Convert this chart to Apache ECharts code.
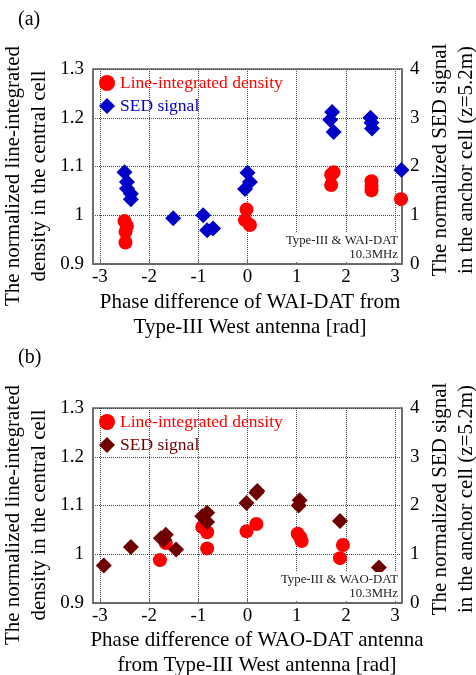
<!DOCTYPE html>
<html><head><meta charset="utf-8">
<script src="https://cdn.jsdelivr.net/npm/echarts@6/dist/echarts.min.js"></script>
<style>html,body{margin:0;padding:0;background:#fff}#c{width:476px;height:675px}</style>
</head><body><div id="c"></div>
<script>
// ---- data ----
const xTicks = [-3, -2, -1, 0, 1, 2, 3];
const densTicks = [0.9, 1.0, 1.1, 1.2, 1.3];
const sedTicks = [0, 1, 2, 3, 4];

// Panel (a): WAI-DAT
const aDensPhase = [-2.5, -2.45, -2.48, -2.48, -0.02, -0.05, 0.05, 1.7, 1.75, 1.7, 2.52, 2.52, 2.52, 3.12];
const aDensValue = [0.988, 0.978, 0.966, 0.944, 1.012, 0.99, 0.98, 1.083, 1.088, 1.062, 1.070, 1.060, 1.051, 1.033];
const aSedPhase = [-2.5, -2.45, -2.45, -2.37, -2.37, -1.51, -0.9, -0.82, -0.7, 0.0, 0.05, -0.05, 1.72, 1.68, 1.75, 2.5, 2.52, 2.53, 3.13];
const aSedValue = [1.88, 1.68, 1.55, 1.44, 1.33, 0.94, 1.0, 0.69, 0.73, 1.87, 1.68, 1.54, 3.12, 2.96, 2.71, 3.0, 2.9, 2.78, 1.93];

// Panel (b): WAO-DAT
const bDensPhase = [-1.78, -1.66, -0.92, -0.82, -0.82, -0.02, 0.18, 1.02, 1.07, 1.1, 1.94, 1.88];
const bDensValue = [0.988, 1.023, 1.056, 1.045, 1.012, 1.047, 1.062, 1.042, 1.035, 1.027, 1.019, 0.992];
const bSedPhase = [-2.92, -2.37, -1.76, -1.66, -1.7, -1.45, -0.92, -0.82, -0.82, -0.02, 0.18, 0.2, 1.06, 1.04, 1.88, 2.67];
const bSedValue = [0.77, 1.15, 1.33, 1.4, 1.3, 1.1, 1.78, 1.85, 1.66, 2.05, 2.26, 2.3, 2.11, 2.0, 1.68, 0.73];

const seriesNamesA = ['Line-integrated density', 'SED signal'];
const seriesNamesB = ['Line-integrated density ', 'SED signal '];

// ---- styling ----
const FONT = '"Liberation Serif", "Times New Roman", serif';
const RED = '#ff0000', BLUE = '#0000c8', MAROON = '#6e0000';
const pairs = (xs, ys) => xs.map((x, i) => [x, ys[i]]);

function xAxis(grid) {
  return {
    type: 'value', gridIndex: grid, min: -3.14, max: 3.14,
    axisLine: { show: true, onZero: false, lineStyle: { color: '#666', width: 1.5 } },
    axisTick: { show: true, inside: true, length: 5, customValues: xTicks, lineStyle: { color: '#666' } },
    axisLabel: { customValues: xTicks, fontFamily: FONT, fontSize: 19, color: '#000', margin: 4 },
    splitLine: { show: true, lineStyle: { type: 'dotted', color: '#444', width: 1 } }
  };
}
function yLeft(grid) {
  return {
    type: 'value', gridIndex: grid, position: 'left', min: 0.9, max: 1.3, interval: 0.1,
    axisLine: { show: true, onZero: false, lineStyle: { color: '#666', width: 1.5 } },
    axisTick: { show: false },
    axisLabel: { fontFamily: FONT, fontSize: 19, color: '#000', margin: 9, verticalAlign: 'middle', padding: [0, 0, 9, 0],
      formatter: v => String(Math.round(v * 10) / 10) },
    splitLine: { show: true, lineStyle: { type: 'dotted', color: '#444', width: 1 } }
  };
}
function yRight(grid) {
  return {
    type: 'value', gridIndex: grid, position: 'right', min: 0, max: 4, interval: 1,
    axisLine: { show: true, onZero: false, lineStyle: { color: '#666', width: 1.5 } },
    axisTick: { show: false },
    axisLabel: { fontFamily: FONT, fontSize: 19, color: '#000', margin: 8 },
    splitLine: { show: false }
  };
}
function legend(top, names, colors) {
  return {
    orient: 'vertical', left: 99, top: top, itemWidth: 16, itemHeight: 16, itemGap: 5,
    padding: 0, selectedMode: false,
    textStyle: { fontFamily: FONT, fontSize: 17.5 },
    data: [
      { name: names[0], icon: 'circle', textStyle: { color: colors[0] } },
      { name: names[1], icon: 'diamond', textStyle: { color: colors[1] } }
    ]
  };
}
function vtext(x, y, text) {
  return { type: 'text', x: x, y: y, rotation: Math.PI / 2, z: 100,
    style: { text: text, x: 0, y: 0, align: 'center', verticalAlign: 'middle',
      font: '21px ' + FONT, lineHeight: 26, fill: '#000' } };
}
function htext(x, y, text) {
  return { type: 'text', x: x, y: y, z: 100,
    style: { text: text, x: 0, y: 0, align: 'center', verticalAlign: 'middle',
      font: '21px ' + FONT, lineHeight: 25, fill: '#000' } };
}
function note(x, y, text) {
  return { type: 'text', x: x, y: y, z: 50,
    style: { text: text, x: 0, y: 0, align: 'right', verticalAlign: 'bottom',
      font: '12.8px ' + FONT, lineHeight: 14, fill: '#222', backgroundColor: '#fff', padding: [1, 1, 0, 2] } };
}

const chart = echarts.init(document.getElementById('c'), null, { renderer: 'canvas' });
const option = {
  backgroundColor: '#fff',
  animation: false,
  grid: [
    { left: 93, top: 69, width: 309, height: 195, show: true, borderColor: '#666', borderWidth: 1.5, containLabel: false },
    { left: 93, top: 408, width: 309, height: 195, show: true, borderColor: '#666', borderWidth: 1.5, containLabel: false }
  ],
  xAxis: [xAxis(0), xAxis(1)],
  yAxis: [yLeft(0), yRight(0), yLeft(1), yRight(1)],
  legend: [legend(74, seriesNamesA, [RED, BLUE]), legend(413, seriesNamesB, [RED, MAROON])],
  series: [
    { name: seriesNamesA[0], type: 'scatter', xAxisIndex: 0, yAxisIndex: 0, symbol: 'circle', symbolSize: 14,
      itemStyle: { color: RED, opacity: 1 }, data: pairs(aDensPhase, aDensValue) },
    { name: seriesNamesA[1], type: 'scatter', xAxisIndex: 0, yAxisIndex: 1, symbol: 'diamond', symbolSize: 16,
      itemStyle: { color: BLUE, opacity: 1 }, data: pairs(aSedPhase, aSedValue) },
    { name: seriesNamesB[0], type: 'scatter', xAxisIndex: 1, yAxisIndex: 2, symbol: 'circle', symbolSize: 14,
      itemStyle: { color: RED, opacity: 1 }, data: pairs(bDensPhase, bDensValue) },
    { name: seriesNamesB[1], type: 'scatter', xAxisIndex: 1, yAxisIndex: 3, symbol: 'diamond', symbolSize: 16,
      itemStyle: { color: MAROON, opacity: 1 }, data: pairs(bSedPhase, bSedValue) }
  ],
  graphic: [
    { type: 'text', x: 18, y: 10, style: { text: '(a)', font: '20px ' + FONT, fill: '#000' } },
    { type: 'text', x: 18, y: 348, style: { text: '(b)', font: '20px ' + FONT, fill: '#000' } },
    vtext(26.5, 176, 'The normalized line-integrated\ndensity in the central cell'),
    vtext(453, 160, 'The normalized SED signal\nin the anchor cell (z=5.2m)'),
    htext(250, 314.5, 'Phase difference of WAI-DAT from\nType-III West antenna [rad]'),
    vtext(26.5, 515, 'The normalized line-integrated\ndensity in the central cell'),
    vtext(453, 499, 'The normalized SED signal\nin the anchor cell (z=5.2m)'),
    htext(257, 652.5, 'Phase difference of WAO-DAT antenna\nfrom Type-III West antenna [rad]'),
    note(399, 262, 'Type-III & WAI-DAT\n10.3MHz'),
    note(399, 601, 'Type-III & WAO-DAT\n10.3MHz')
  ]
};
chart.setOption(option);
</script>
</body></html>
